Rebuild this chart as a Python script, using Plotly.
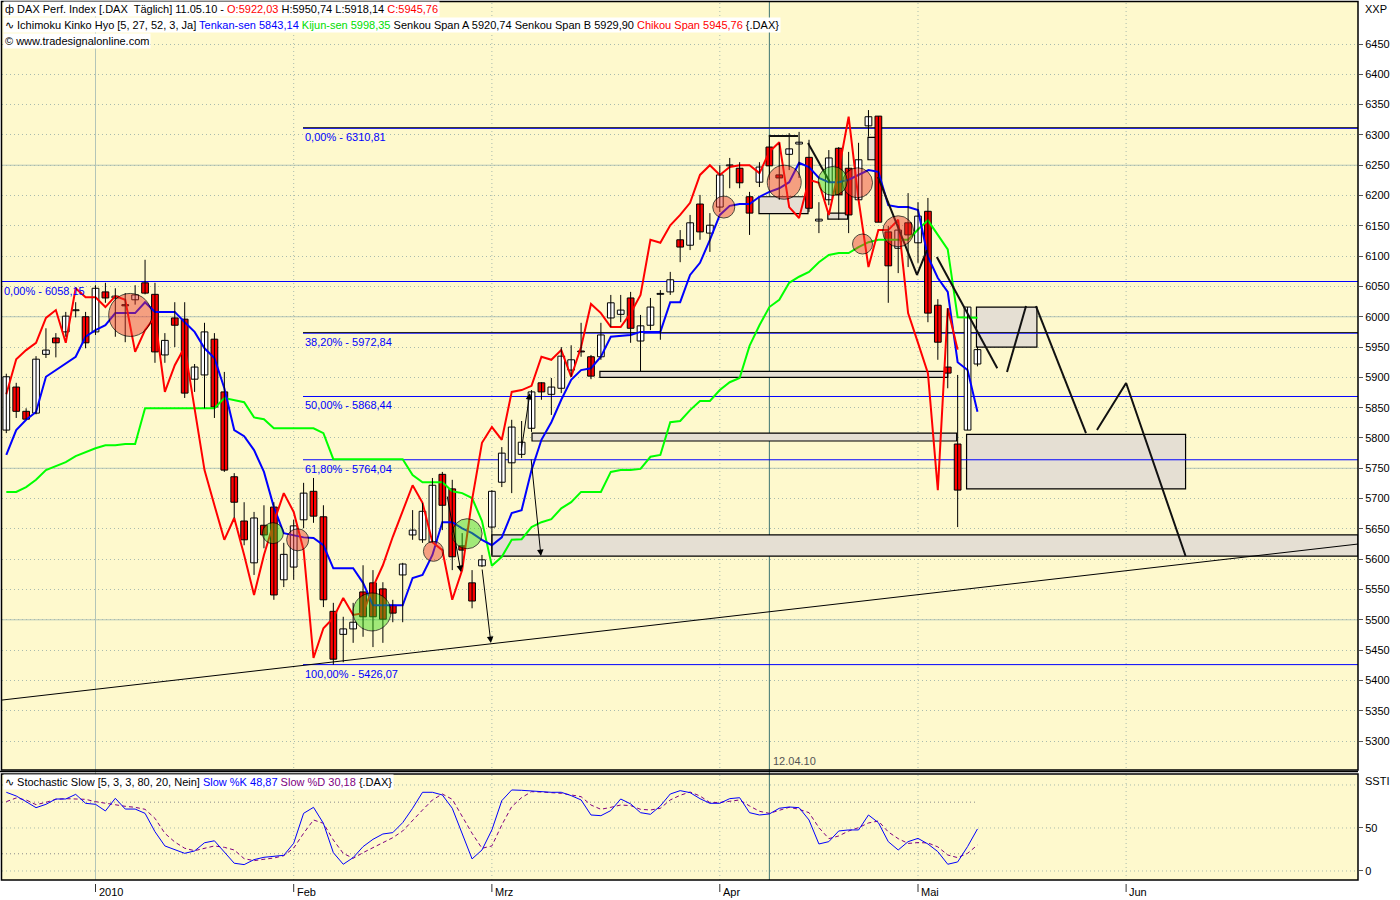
import plotly.graph_objects as go

# ======================= DATA =======================
# trading-day number (0 = 04.01.2010, Apr 1 = 63, May 3 = 83, May 11 = 89)
day_index = list(range(-9, 90))

opens = [5813, 5884, 5844, 5841, 5938, 5965, 5975, 6010, 6000,
         5975, 6041, 6031, 6020, 6028, 6056, 6037, 5937, 5998, 5996,
         5897, 5904, 5963, 5876, 5736, 5663, 5594, 5656, 5686, 5566,
         5587, 5665, 5712, 5670, 5514, 5476, 5485, 5546, 5561, 5551,
         5524, 5574, 5640, 5632, 5628, 5740, 5716, 5622, 5561, 5589,
         5653, 5727, 5759, 5773, 5816, 5891, 5872, 5882, 5912, 5943,
         5934, 5934, 5998, 6004, 6031, 5960, 5986, 6037, 6041, 6127,
         6118, 6186, 6138, 6181, 6249, 6245, 6198, 6222, 6280, 6234,
         6268, 6285, 6263, 6158, 6193, 6278, 6245, 6193, 6315, 6331,
         6140, 6113, 6155, 6122, 6174, 6019, 5917, 5790, 5813, 5922.03]
highs = [5906, 5891, 5849, 5935, 5981, 5973, 6008, 6024, 6008,
         6052, 6056, 6047, 6039, 6052, 6094, 6056, 5973, 6024, 6024,
         5922, 5990, 5973, 5909, 5742, 5694, 5678, 5689, 5694, 5627,
         5665, 5726, 5734, 5689, 5528, 5505, 5528, 5590, 5582, 5562,
         5533, 5594, 5681, 5693, 5734, 5744, 5731, 5643, 5582, 5607,
         5714, 5785, 5830, 5828, 5879, 5892, 5899, 5950, 5953, 5990,
         5937, 5990, 6036, 6036, 6041, 6003, 6031, 6044, 6074, 6143,
         6168, 6201, 6171, 6250, 6262, 6255, 6206, 6255, 6300, 6287,
         6303, 6305, 6292, 6189, 6275, 6280, 6272, 6287, 6341, 6331,
         6150, 6151, 6204, 6189, 6196, 6029, 6014, 5904, 6016, 5950.74]
lows = [5808, 5833, 5830, 5839, 5932, 5933, 5967, 5999, 5948,
        5970, 6023, 5967, 5958, 6020, 6037, 5924, 5924, 5950, 5866,
        5876, 5849, 5833, 5744, 5668, 5623, 5574, 5618, 5533, 5554,
        5566, 5651, 5660, 5521, 5426, 5430, 5462, 5472, 5455, 5462,
        5496, 5496, 5632, 5627, 5627, 5648, 5582, 5587, 5519, 5587,
        5607, 5719, 5709, 5767, 5810, 5863, 5838, 5874, 5901, 5934,
        5897, 5929, 5983, 5991, 5957, 5909, 5978, 5962, 6036, 6090,
        6110, 6127, 6107, 6173, 6212, 6212, 6135, 6214, 6226, 6193,
        6242, 6229, 6173, 6138, 6184, 6160, 6138, 6193, 6297, 6156,
        6023, 6072, 6082, 6089, 5991, 5929, 5882, 5653, 5813, 5918.14]
closes = [5901, 5844, 5831, 5930, 5945, 5957, 6001, 6011, 5957,
          6047, 6031, 6034, 6018, 6036, 6039, 5942, 5961, 5986, 5874,
          5917, 5975, 5851, 5747, 5694, 5632, 5668, 5640, 5541, 5608,
          5655, 5709, 5671, 5533, 5435, 5485, 5496, 5505, 5505, 5501,
          5511, 5592, 5648, 5679, 5722, 5689, 5604, 5615, 5531, 5599,
          5712, 5775, 5818, 5793, 5876, 5876, 5884, 5935, 5929, 5942,
          5902, 5970, 6023, 6011, 5981, 5985, 6016, 6038, 6061, 6115,
          6155, 6140, 6151, 6234, 6250, 6221, 6171, 6247, 6249, 6229,
          6277, 6288, 6179, 6161, 6262, 6201, 6168, 6259, 6330, 6156,
          6084, 6143, 6135, 6166, 6006, 5958, 5907, 5714, 6016, 5945.76]

tenkan = [5772, 5813, 5830, 5843, 5901, 5912, 5924, 5934, 5967,
          5978, 5986, 6006, 6006, 6006, 6024, 6008, 6008, 6008, 5991,
          5975, 5948, 5932, 5882, 5813, 5803, 5780, 5744, 5686, 5643,
          5640, 5636, 5635, 5623, 5585, 5585, 5585, 5561, 5524, 5524,
          5524, 5524, 5569, 5574, 5607, 5661, 5661, 5651, 5643, 5632,
          5623, 5636, 5676, 5681, 5747, 5797, 5826, 5863, 5896, 5912,
          5915, 5934, 5967, 5968, 5970, 5975, 5975, 5975, 6024, 6024,
          6069, 6089, 6127, 6168, 6183, 6186, 6186, 6198, 6206, 6212,
          6222, 6254, 6247, 6229, 6222, 6222, 6226, 6234, 6242, 6239,
          6184, 6181, 6181, 6176, 6099, 6064, 6041, 5925, 5912, 5843.14]
kijun = [5711, 5711, 5719, 5731, 5747, 5754, 5760, 5770, 5777,
         5783, 5788, 5788, 5790, 5790, 5849, 5849, 5849, 5849, 5849,
         5849, 5849, 5849, 5866, 5862, 5859, 5834, 5831, 5816, 5816,
         5816, 5816, 5816, 5808, 5765, 5765, 5765, 5765, 5765, 5765,
         5765, 5765, 5739, 5727, 5727, 5727, 5712, 5709, 5701, 5663,
         5589, 5604, 5632, 5633, 5653, 5661, 5666, 5684, 5694, 5711,
         5711, 5711, 5744, 5747, 5747, 5749, 5769, 5772, 5826, 5828,
         5846, 5861, 5861, 5879, 5892, 5899, 5952, 5986, 6016, 6028,
         6056, 6066, 6074, 6090, 6102, 6105, 6105, 6115, 6123, 6127,
         6127, 6127, 6127, 6144, 6159, 6135, 6111, 5999, 5999, 5998.35]
chikou_index = list(range(-9, 88))
chikou = [5872, 5930, 5945, 5957, 5998, 6011, 5957, 6047, 6032,
          6032, 6016, 6034, 6028, 5942, 5978, 6000, 5876, 5920, 5950,
          5846, 5747, 5689, 5632, 5668, 5607, 5541, 5607, 5661, 5709,
          5678, 5615, 5437, 5486, 5503, 5536, 5508, 5511, 5554, 5590,
          5637, 5681, 5722, 5693, 5628, 5615, 5533, 5582, 5698, 5792,
          5818, 5797, 5876, 5879, 5886, 5934, 5929, 5945, 5901, 5950,
          6021, 6006, 5983, 5983, 6006, 6036, 6127, 6122, 6151, 6168,
          6188, 6234, 6250, 6234, 6247, 6250, 6250, 6237, 6272, 6288,
          6181, 6163, 6226, 6221, 6168, 6242, 6330, 6193, 6082, 6143,
          6143, 6160, 6006, 5957, 5907, 5714, 6014, 5945.76]

stoch_k = [91.5, 87.2, 80.6, 73.6, 77.5, 83.7, 83.7, 89.1, 78.7,
           77.5, 69.8, 84.5, 72.0, 72.0, 67.0, 45.7, 29.1, 24.4, 20.5,
           23.3, 32.8, 35.1, 21.7, 9.0, 7.4, 13.2, 15.9, 16.7, 18.2,
           32.2, 67.0, 74.0, 55.4, 21.3, 7.8, 15.5, 28.3, 36.8, 43.0,
           44.6, 56.2, 72.9, 91.5, 91.5, 88.4, 72.9, 43.8, 14.0, 24.4,
           47.7, 81.8, 94.2, 93.8, 93.0, 91.5, 91.5, 91.5, 87.6, 82.6,
           65.1, 64.3, 70.2, 83.7, 78.0, 67.8, 65.9, 75.6, 89.5, 93.4,
           91.1, 84.1, 78.7, 78.7, 84.1, 85.2, 67.8, 65.1, 66.3, 72.9,
           74.4, 73.6, 59.3, 31.4, 34.1, 46.5, 47.7, 47.7, 65.1, 56.2,
           34.1, 24.4, 34.1, 37.9, 31.4, 22.5, 7.8, 10.5, 28.3, 48.87]
stoch_d = [80.6, 84.9, 82.6, 77.1, 79.8, 83.3, 84.1, 83.7, 83.3,
           80.6, 78.7, 76.4, 75.2, 74.0, 71.7, 61.2, 43.8, 33.7, 26.4,
           23.6, 26.7, 29.1, 27.5, 24.4, 14.3, 12.0, 13.6, 15.1, 17.8,
           26.7, 43.8, 59.3, 55.4, 36.0, 20.5, 14.7, 21.3, 27.1, 32.2,
           38.7, 46.5, 59.3, 70.9, 82.6, 89.5, 83.3, 63.2, 43.8, 26.4,
           29.1, 53.5, 74.8, 85.3, 92.2, 91.8, 91.1, 90.3, 88.4, 86.4,
           76.7, 71.7, 74.0, 76.7, 76.0, 71.7, 70.9, 72.9, 82.6, 88.0,
           91.8, 87.2, 79.5, 79.8, 81.0, 82.6, 75.6, 69.4, 67.0, 70.2,
           74.0, 71.7, 67.8, 50.4, 37.6, 40.7, 46.5, 50.4, 55.8, 58.1,
           45.4, 37.6, 32.0, 33.0, 32.6, 28.0, 18.6, 15.5, 20.5, 30.18]

price_ticks = list(range(5300, 6451, 50))
month_labels = ["2010", "Feb", "Mrz", "Apr", "Mai", "Jun"]
month_index = [0, 20, 40, 63, 83, 104]
marker_day = 68            # 12.04.10
marker_label = "12.04.10"

# Fibonacci retracement (high 6310,81 -> low 5426,07)
fib_pct = ["0,00%", "38,20%", "50,00%", "61,80%", "100,00%"]
fib_levels = [6310.81, 5972.84, 5868.44, 5764.04, 5426.07]
fib_start = 20.94
fib2_pct = "0,00%"
fib2_level = 6058.15

# circle markers (day, price)
red_circle_day = [3.5, 20.4, 34.1, 63.4, 69.5, 76.9, 77.4, 81.0]
red_circle_price = [6003, 5632, 5613, 6181, 6222, 6221, 6120, 6141]
green_circle_day = [17.9, 27.9, 37.5, 74.4]
green_circle_price = [5643, 5513, 5642, 6224]

# grey zones: (day0, day1, price_lo, price_hi)
zone_day0 = [66.95, 73.9, 77.95, 50.9, 44.05, 40.0, 87.9, 88.9]
zone_day1 = [71.9, 75.9, 78.96, 86.0, 86.9, 127.4, 110.0, 95.0]
zone_lo = [6170, 6161, 6259, 5900, 5795, 5605, 5716, 5950]
zone_hi = [6198, 6171, 6296, 5910, 5808, 5640, 5806, 6016]

# drawn black paths (day, price)
trend_day = [-9.435, 127.4]
trend_price = [5367.6, 5625.0]
paths_day = [[84.9, 91.0], [91.98, 93.9], [94.9, 99.95], [101.06, 104.0, 110.0],
             [67.95, 70.9], [71.9, 74.1], [78.96, 82.9, 83.9]]
paths_price = [[6098.6, 5915.0], [5908.8, 6017.7], [6017.7, 5808.0], [5813.0, 5890.7, 5605.2],
               [6298.2, 6298.2], [6286.7, 6222.3], [6230.6, 6068.9, 6110.1]]
# arrows (tail day, tail price, head day, head price)
arrow_tail_day = [35.47, 39.0, 43.95, 42.94]
arrow_tail_price = [5705.9, 5585.4, 5766.9, 5776.8]
arrow_head_day = [36.88, 39.9, 44.95, 43.84]
arrow_head_price = [5578.8, 5461.7, 5605.2, 5874.2]

# ======================= STYLE =======================
W, H = 1400, 900
FONT = "Liberation Sans, Arial, sans-serif"
BG = "#FEF9CD"
GRID = "#A9BBAE"
X_RANGE = [-9.435, 127.4]
Y_RANGE = [5252.2, 6519.3]
S_RANGE = [-10.5, 111.6]
red_circle_size = [43, 22, 20, 22, 34, 30, 20, 31]
green_circle_size = [21, 38, 30, 29]


def py(p):
    return 1 - p / H


XDOM = [2 / W, 1358 / W]
fig = go.Figure()

# Ichimoku lines
fig.add_trace(go.Scatter(x=day_index, y=kijun, mode="lines",
                         line=dict(color="#00FF00", width=2), hoverinfo="skip"))
fig.add_trace(go.Scatter(x=day_index, y=tenkan, mode="lines",
                         line=dict(color="#0000FF", width=2), hoverinfo="skip"))
fig.add_trace(go.Scatter(x=chikou_index, y=chikou, mode="lines",
                         line=dict(color="#FF0000", width=2), hoverinfo="skip"))

# candles: wicks then bodies
wx, wy = [], []
for d, h, l in zip(day_index, highs, lows):
    wx += [d, d, None]
    wy += [l, h, None]
fig.add_trace(go.Scatter(x=wx, y=wy, mode="lines", line=dict(color="black", width=1),
                         hoverinfo="skip"))
base = [min(o, c) for o, c in zip(opens, closes)]
height = [max(abs(c - o), 1.5) for o, c in zip(opens, closes)]
cols = ["#FFFFFF" if c >= o else "#FF0000" for o, c in zip(opens, closes)]
fig.add_trace(go.Bar(x=day_index, y=height, base=base, width=0.68,
                     marker=dict(color=cols, line=dict(color="black", width=1)),
                     hoverinfo="skip"))

# black drawn paths
fig.add_trace(go.Scatter(x=trend_day, y=trend_price, mode="lines",
                         line=dict(color="black", width=1), hoverinfo="skip"))
for dd, pp in zip(paths_day, paths_price):
    fig.add_trace(go.Scatter(x=dd, y=pp, mode="lines",
                             line=dict(color="#111111", width=2), hoverinfo="skip"))

# circles
fig.add_trace(go.Scatter(x=red_circle_day, y=red_circle_price, mode="markers",
                         marker=dict(size=red_circle_size, color="rgba(236,55,40,0.66)",
                                     line=dict(color="black", width=1)), hoverinfo="skip"))
fig.add_trace(go.Scatter(x=green_circle_day, y=green_circle_price, mode="markers",
                         marker=dict(size=green_circle_size, color="rgba(50,215,20,0.65)",
                                     line=dict(color="black", width=1)), hoverinfo="skip"))

# stochastic
fig.add_trace(go.Scatter(x=day_index, y=stoch_d, mode="lines", xaxis="x2", yaxis="y2",
                         line=dict(color="#800080", width=1, dash="4px,3px"), hoverinfo="skip"))
fig.add_trace(go.Scatter(x=day_index, y=stoch_k, mode="lines", xaxis="x2", yaxis="y2",
                         line=dict(color="#0000FF", width=1), hoverinfo="skip"))

shapes = []
# solid grid every 250
for v in price_ticks:
    if v % 250 == 0:
        shapes.append(dict(type="line", xref="paper", yref="y", x0=XDOM[0], x1=XDOM[1],
                           y0=v, y1=v, line=dict(color="#B3C5B8", width=1), layer="below"))
# stochastic grid
for v, c, x1 in [(0, GRID, X_RANGE[1]), (50, GRID, X_RANGE[1]), (100, GRID, X_RANGE[1]),
                 (20, "#8A8A8A", day_index[-1]), (80, "#8A8A8A", day_index[-1])]:
    shapes.append(dict(type="line", xref="x2", yref="y2", x0=X_RANGE[0], x1=x1, y0=v, y1=v,
                       line=dict(color=c, width=1, dash="1px,3px"), layer="below"))
# vertical grid
for lab, d in zip(month_labels, month_index):
    solid = lab == "2010"
    shapes.append(dict(type="line", xref="x", yref="paper", x0=d, x1=d,
                       y0=py(880), y1=py(2),
                       line=dict(color="#B3C5B8" if solid else GRID, width=1,
                                 dash="solid" if solid else "1px,3px"), layer="below"))
    shapes.append(dict(type="line", xref="x", yref="paper", x0=d, x1=d,
                       y0=py(892), y1=py(884), line=dict(color="#333", width=1)))
# grey zones
for a, b, lo, hi in zip(zone_day0, zone_day1, zone_lo, zone_hi):
    shapes.append(dict(type="rect", xref="x", yref="y", x0=a, x1=b, y0=lo, y1=hi,
                       fillcolor="#E5DFD3", line=dict(color="black", width=1.2), layer="between"))
# Fibonacci lines (0 % and 38.2 % drawn dark over the blue)
for lvl, pct in zip(fib_levels, fib_pct):
    dark = pct in ("0,00%", "38,20%")
    shapes.append(dict(type="line", xref="x", yref="y", x0=fib_start, x1=X_RANGE[1],
                       y0=lvl, y1=lvl, line=dict(color="#0000FF", width=1), layer="between"))
    if dark:
        shapes.append(dict(type="line", xref="x", yref="y", x0=fib_start, x1=X_RANGE[1],
                           y0=lvl + 1.2, y1=lvl + 1.2, line=dict(color="#222222", width=1),
                           layer="between"))
shapes.append(dict(type="line", xref="x", yref="y", x0=X_RANGE[0], x1=X_RANGE[1],
                   y0=fib2_level, y1=fib2_level, line=dict(color="#0000FF", width=1),
                   layer="between"))
# date marker line
shapes.append(dict(type="line", xref="x", yref="paper", x0=marker_day, x1=marker_day,
                   y0=py(880), y1=py(2), line=dict(color="#3E7472", width=1), layer="between"))
# panel frames
shapes.append(dict(type="rect", xref="paper", yref="paper", x0=1.5 / W, x1=1358 / W,
                   y0=py(770), y1=py(1.5), line=dict(color="black", width=1.5)))
shapes.append(dict(type="rect", xref="paper", yref="paper", x0=1.5 / W, x1=1358 / W,
                   y0=py(880), y1=py(774), line=dict(color="black", width=1.5)))
shapes.append(dict(type="line", xref="paper", yref="paper", x0=0, x1=1358 / W,
                   y0=py(771.5), y1=py(771.5), line=dict(color="black", width=1.5)))

ann = []
hdr = dict(xref="paper", yref="paper", xanchor="left", yanchor="middle", showarrow=False,
           bgcolor="white", borderpad=1, font=dict(family=FONT, size=11, color="black"))
ann.append(dict(hdr, x=3 / W, y=py(9),
                text="ф DAX Perf. Index [.DAX  Täglich] 11.05.10 - "
                     "<span style='color:#FF0000'>O:5922,03</span> H:5950,74 L:5918,14 "
                     "<span style='color:#FF0000'>C:5945,76</span>"))
ann.append(dict(hdr, x=3 / W, y=py(25),
                text="∿ Ichimoku Kinko Hyo [5, 27, 52, 3, Ja] "
                     "<span style='color:#0000FF'>Tenkan-sen 5843,14</span> "
                     "<span style='color:#00DD00'>Kijun-sen 5998,35</span> "
                     "Senkou Span A 5920,74 Senkou Span B 5929,90 "
                     "<span style='color:#FF0000'>Chikou Span 5945,76</span> {.DAX}"))
ann.append(dict(hdr, x=3 / W, y=py(41), text="© www.tradesignalonline.com"))
ann.append(dict(hdr, x=3 / W, y=py(782),
                text="∿ Stochastic Slow [5, 3, 3, 80, 20, Nein] "
                     "<span style='color:#0000FF'>Slow %K 48,87</span> "
                     "<span style='color:#800080'>Slow %D 30,18</span> {.DAX}"))
side = dict(xref="paper", yref="paper", xanchor="left", yanchor="middle", showarrow=False,
            font=dict(family=FONT, size=11, color="black"))
ann.append(dict(side, x=1363 / W, y=py(9), text="XXP"))
ann.append(dict(side, x=1363 / W, y=py(781), text="SSTI"))
# month labels
for lab, d in zip(month_labels, month_index):
    ann.append(dict(xref="x", yref="paper", x=d, y=py(892), xanchor="left", yanchor="middle",
                    xshift=1, showarrow=False, text=lab,
                    font=dict(family=FONT, size=11, color="black")))
ann.append(dict(xref="x", yref="paper", x=marker_day, y=py(761), xanchor="left",
                yanchor="middle", xshift=2, showarrow=False, text=marker_label,
                font=dict(family=FONT, size=11, color="#555555")))
# fib labels
fibfont = dict(family=FONT, size=11, color="#0000FF")
for pct, lvl in zip(fib_pct, fib_levels):
    ann.append(dict(xref="x", yref="y", x=fib_start, y=lvl, xanchor="left", yanchor="top",
                    yshift=-1, showarrow=False, font=fibfont,
                    text=f"{pct} - {lvl:.2f}".replace(".", ",")))
ann.append(dict(xref="x", yref="y", x=X_RANGE[0], y=fib2_level, xanchor="left", yanchor="top",
                yshift=-1, showarrow=False, font=fibfont,
                text=f"{fib2_pct} - {fib2_level:.2f}".replace(".", ",")))
# arrows
for td, tp, hd, hp in zip(arrow_tail_day, arrow_tail_price, arrow_head_day, arrow_head_price):
    ann.append(dict(xref="x", yref="y", axref="x", ayref="y", x=hd, y=hp, ax=td, ay=tp,
                    text="", showarrow=True, arrowhead=2, arrowsize=1.3, arrowwidth=1,
                    arrowcolor="black"))

fig.update_layout(
    width=W, height=H, margin=dict(l=0, r=0, t=0, b=0),
    paper_bgcolor="white", plot_bgcolor=BG, showlegend=False,
    font=dict(family=FONT, size=11, color="black"),
    shapes=shapes, annotations=ann,
    xaxis=dict(domain=XDOM, range=X_RANGE, showgrid=False, zeroline=False,
               showticklabels=False, ticks="", fixedrange=True),
    yaxis=dict(domain=[py(770), py(2)], range=Y_RANGE, side="right", anchor="x",
               tickvals=price_ticks, ticktext=[str(v) for v in price_ticks],
               ticks="outside", ticklen=4, tickcolor="#555", showgrid=True, gridcolor=GRID,
               griddash="1px,3px", zeroline=False, showline=False,
               tickfont=dict(family=FONT, size=11)),
    xaxis2=dict(domain=XDOM, range=X_RANGE, anchor="y2", showgrid=False, zeroline=False,
                showticklabels=False, ticks=""),
    yaxis2=dict(domain=[py(880), py(775)], range=S_RANGE, side="right", anchor="x2",
                tickvals=[0, 50], ticktext=["0", "50"], ticks="outside", ticklen=4,
                tickcolor="#555", showgrid=False, zeroline=False,
                tickfont=dict(family=FONT, size=11)),
)

fig.write_html("out.html", config={"displayModeBar": False},
               post_script="document.body.style.margin='0';")
